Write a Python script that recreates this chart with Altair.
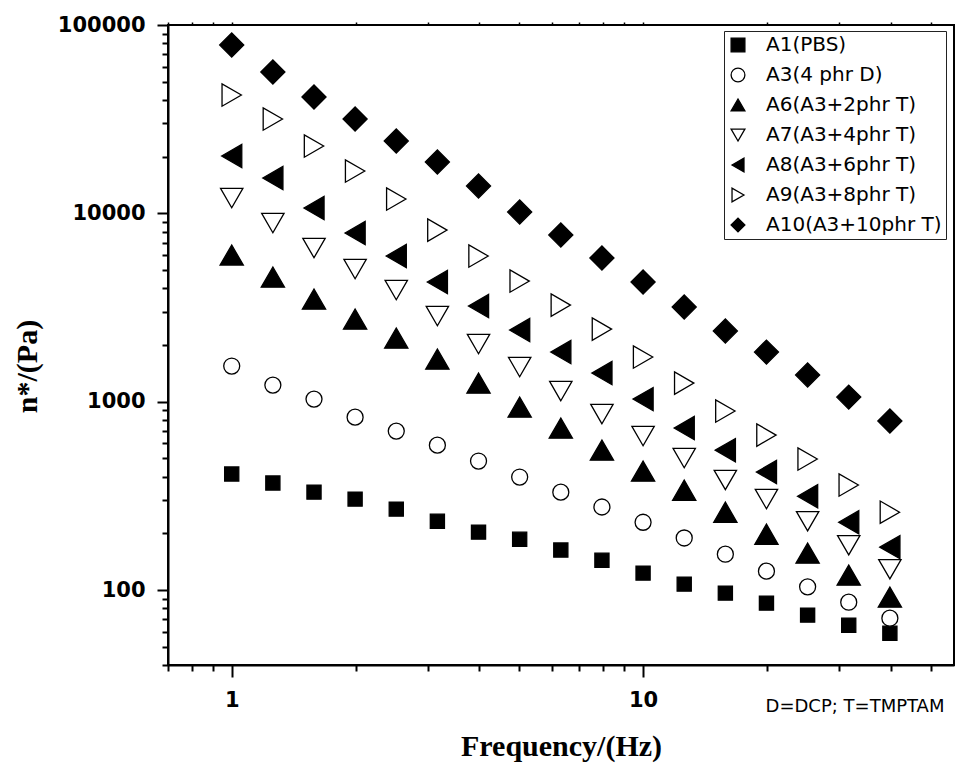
import altair as alt
import pandas as pd

# ---- data (log-log) ----
freq = [1.0, 1.259, 1.585, 1.995, 2.512, 3.162, 3.981, 5.012, 6.310, 7.943,
        10.0, 12.59, 15.85, 19.95, 25.12, 31.62, 39.81]

series_names = ["A1(PBS)", "A3(4 phr D)", "A6(A3+2phr T)", "A7(A3+4phr T)",
                "A8(A3+6phr T)", "A9(A3+8phr T)", "A10(A3+10phr T)"]

a1 = [413, 370, 331, 304, 269, 232, 203, 186, 163, 144, 123, 107.5, 96.3, 85.2, 73.6, 65.1, 59.0]
a3 = [1546, 1225, 1032, 828, 698, 588, 484, 398, 331, 276, 229, 189, 155, 126, 104, 86.2, 70.9]
a6 = [6006, 4588, 3506, 2746, 2177, 1684, 1255, 936, 724, 553, 428, 339, 259, 198, 157, 120, 91.7]
a7 = [12060, 8880, 6542, 5061, 3914, 2848, 2022, 1527, 1138, 859, 657, 502, 384, 304, 232, 173, 129]
a8 = [20160, 15400, 10670, 7860, 5934, 4318, 3219, 2400, 1834, 1419, 1032, 724, 553, 423, 315, 229, 169]
a9 = [42490, 31680, 22770, 16770, 11910, 8150, 5934, 4370, 3258, 2429, 1726, 1255, 892, 665, 496, 361, 259]
a10 = [78300, 56300, 41460, 31680, 24210, 18730, 13960, 10160, 7670, 5790, 4318, 3180, 2371, 1834, 1385, 1058, 789]

note_text = ["D=DCP; T=TMPTAM"]

x_tick_values = [0.7, 0.8, 0.9, 1, 2, 3, 4, 5, 6, 7, 8, 9, 10, 20, 30, 40, 50]
y_tick_values = [40, 50, 60, 70, 80, 90,
                 100, 200, 300, 400, 500, 600, 700, 800, 900,
                 1000, 2000, 3000, 4000, 5000, 6000, 7000, 8000, 9000,
                 10000, 20000, 30000, 40000, 50000, 60000, 70000, 80000, 90000,
                 100000]

# ---- styles ----
shapes = ["square", "circle", "triangle-up", "triangle-down",
          "triangle-left", "triangle-right", "diamond"]
fills = ["black", "white", "black", "white", "black", "white", "black"]
strokes = ["black"] * 7
sizes = [200, 256, 540, 500, 540, 500, 580]

rows = []
for name, vals, sz in zip(series_names, [a1, a3, a6, a7, a8, a9, a10], sizes):
    for f, v in zip(freq, vals):
        rows.append({"series": name, "freq": f, "eta": v, "sz": sz})
df = pd.DataFrame(rows)

legend = alt.Legend(
    title=None, orient="none", legendX=556, legendY=6, direction="vertical",
    fillColor="white", strokeColor="#222222", padding=4,
    labelFont="DejaVu Sans", labelFontSize=20, labelColor="black", labelLimit=400,
    labelOffset=18, rowPadding=10, symbolSize=190,
    symbolStrokeWidth=1.3, symbolOpacity=1,
)

x_scale = alt.Scale(type="log", domain=[0.7, 57], nice=False)
y_scale = alt.Scale(type="log", domain=[40, 100000], nice=False)

x_axis = alt.Axis(
    values=x_tick_values,
    labelExpr="datum.value == 1 || datum.value == 10 ? format(datum.value, 'd') : ''",
    tickSize={"condition": {"test": "datum.value == 1 || datum.value == 10", "value": 12}, "value": 6},
    grid=False, domainColor="black", domainWidth=2, tickColor="black", tickWidth=2,
    labelFont="DejaVu Sans", labelFontWeight="bold", labelFontSize=21, labelColor="black",
    labelPadding=12, labelFlush=False, labelOverlap=False,
    title="Frequency/(Hz)", titleFont="Liberation Serif", titleFontSize=30,
    titleFontWeight="bold", titleColor="black", titleY=81, titleBaseline="middle",
)

x_axis_top = alt.Axis(
    orient="top", values=x_tick_values, labels=False, domain=False, grid=False,
    tickSize=3, tickColor="black", tickWidth=1.5, title=None,
)

y_axis = alt.Axis(
    values=y_tick_values,
    labelExpr="indexof([100, 1000, 10000, 100000], datum.value) >= 0 ? format(datum.value, 'd') : ''",
    tickSize={"condition": {"test": "indexof([100, 1000, 10000, 100000], datum.value) >= 0", "value": 11}, "value": 6},
    grid=False, domainColor="black", domainWidth=2, tickColor="black", tickWidth=2,
    labelFont="DejaVu Sans", labelFontWeight="bold", labelFontSize=21, labelColor="black",
    labelPadding=12, labelFlush=False, labelOverlap=False,
    title="n*/(Pa)", titleFont="Liberation Serif", titleFontSize=30,
    titleFontWeight="bold", titleColor="black", titleX=-141, titleY=341,
    titleAngle=270, titleAlign="center", titleBaseline="middle",
)

points = alt.Chart(df).mark_point(
    filled=True, opacity=1, strokeWidth=1.3
).encode(
    x=alt.X("freq:Q", scale=x_scale, axis=x_axis),
    y=alt.Y("eta:Q", scale=y_scale, axis=y_axis),
    shape=alt.Shape("series:N", scale=alt.Scale(domain=series_names, range=shapes), legend=legend),
    fill=alt.Fill("series:N", scale=alt.Scale(domain=series_names, range=fills), legend=legend),
    stroke=alt.Stroke("series:N", scale=alt.Scale(domain=series_names, range=strokes), legend=legend),
    size=alt.Size("sz:Q", scale=None),
)

top_ticks = alt.Chart(pd.DataFrame({"f": x_tick_values})).mark_point(opacity=0).encode(
    x=alt.X("f:Q", scale=x_scale, axis=x_axis_top),
)

note = alt.Chart(pd.DataFrame({"note": note_text})).mark_text(
    font="DejaVu Sans", fontSize=18, color="black", align="center", baseline="middle"
).encode(
    text="note:N", x=alt.value(687), y=alt.value(682)
)

chart = alt.layer(points, top_ticks, note).resolve_axis(x="independent").properties(
    width=786, height=640,
    autosize=alt.AutoSizeParams(type="none"),
    padding={"left": 168, "top": 25, "right": 7, "bottom": 101},
).configure_view(stroke="black", strokeWidth=2)

chart.save("out.html", embed_options={"renderer": "svg", "actions": False})
